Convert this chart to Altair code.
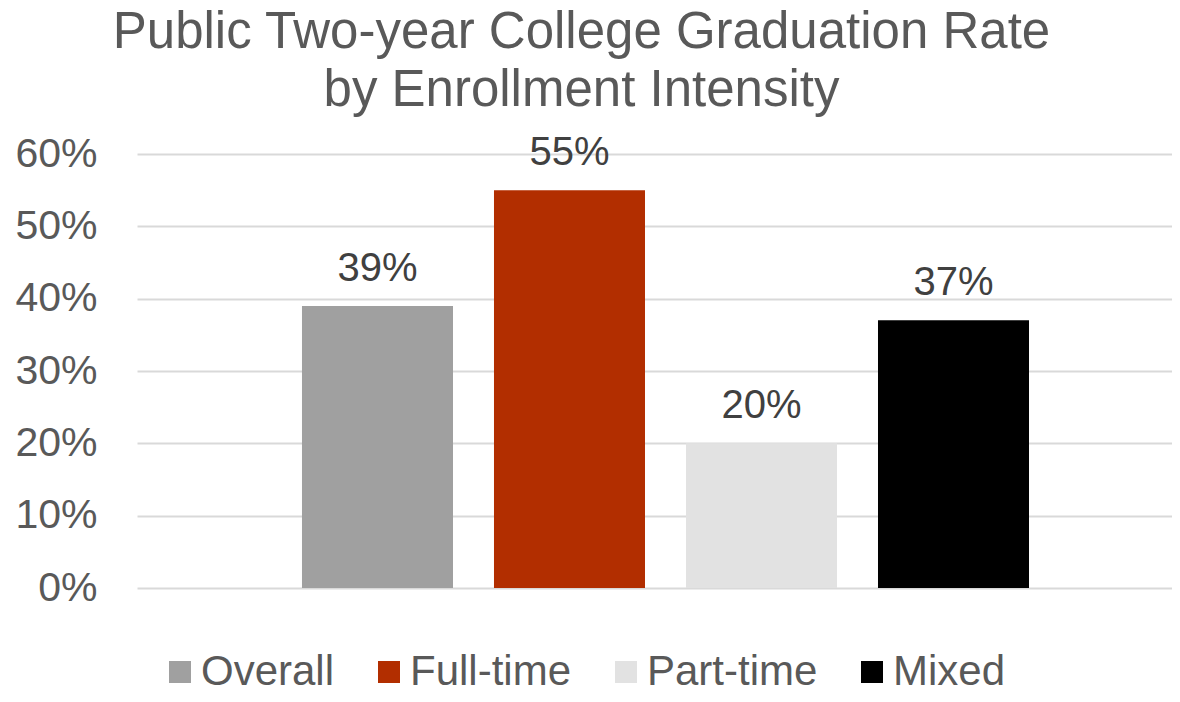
import altair as alt
import pandas as pd

categories = ["Overall", "Full-time", "Part-time", "Mixed"]
rates = [0.39, 0.55, 0.20, 0.37]
colors = ["#A0A0A0", "#B22E00", "#E2E2E2", "#000000"]
title_lines = ["Public Two-year College Graduation Rate", "by Enrollment Intensity"]

df = pd.DataFrame({"Series": categories, "Rate": rates})

FONT = "Liberation Sans"

x = alt.X(
    "Series:N",
    sort=categories,
    scale=alt.Scale(paddingInner=0.2135, paddingOuter=0.802, align=0.5357),
    axis=None,
)
y = alt.Y(
    "Rate:Q",
    scale=alt.Scale(domain=[0, 0.6], nice=False),
    axis=alt.Axis(
        format=".0%",
        values=[0, 0.1, 0.2, 0.3, 0.4, 0.5, 0.6],
        title=None,
        domain=False,
        ticks=False,
        labelFontSize=41,
        labelFont=FONT,
        labelColor="#595959",
        labelPadding=40,
        gridColor="#D9D9D9",
        gridWidth=2,
    ),
)

bars = alt.Chart(df).mark_bar().encode(
    x=x,
    y=y,
    color=alt.Color(
        "Series:N",
        sort=categories,
        scale=alt.Scale(domain=categories, range=colors),
        legend=alt.Legend(
            title=None,
            orient="none",
            legendX=22,
            legendY=497,
            direction="horizontal",
            columns=4,
            symbolType="square",
            symbolSize=484,
            symbolStrokeWidth=0,
            symbolOpacity=1,
            labelFontSize=42,
            labelFont=FONT,
            labelColor="#595959",
            labelOffset=0,
            labelLimit=0,
            columnPadding=33,
            padding=0,
        ),
    ),
)

labels = alt.Chart(df).mark_text(
    baseline="middle", dy=-37, fontSize=40, font=FONT, color="#404040"
).encode(
    x=alt.X("Series:N", sort=categories),
    y="Rate:Q",
    text=alt.Text("Rate:Q", format=".0%"),
)

chart = (
    alt.layer(bars, labels)
    .properties(
        width=1035,
        height=434,
        title=alt.Title(
            text=title_lines,
            fontSize=51,
            font=FONT,
            fontWeight="normal",
            color="#595959",
            lineHeight=58,
            anchor="middle",
            frame="bounds",
            offset=16,
            dx=-12,
        ),
        padding={"left": 129, "top": 146, "right": 0, "bottom": 106},
        autosize=alt.AutoSizeParams(type="none"),
    )
    .configure_view(stroke=None)
)

chart.save("out.html", embed_options={"renderer": "svg", "actions": False})
